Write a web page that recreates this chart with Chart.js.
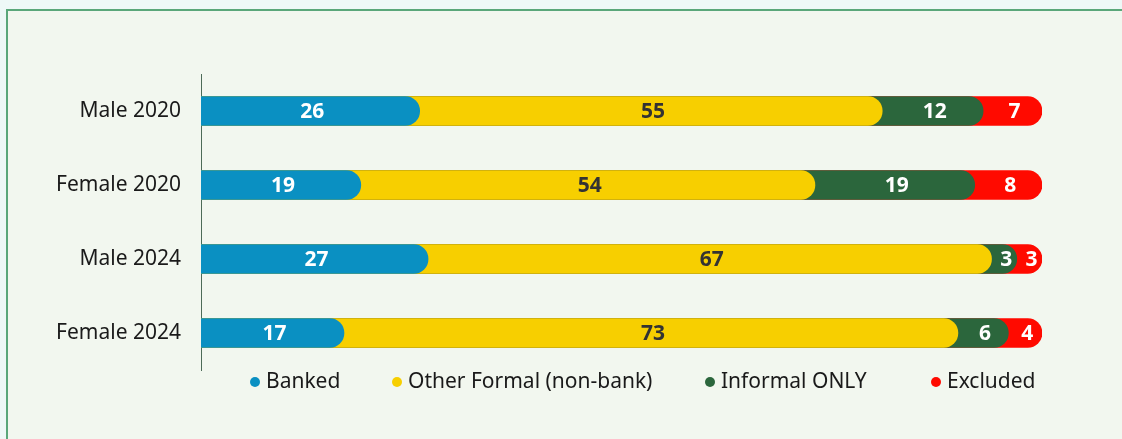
<!DOCTYPE html>
<html>
<head>
<meta charset="utf-8">
<script src="https://cdn.jsdelivr.net/npm/chart.js@4"></script>
<style>
  html, body { margin: 0; padding: 0; background: #eef8f7; }
  #frame {
    position: absolute; left: 6px; top: 9px; width: 1116px; height: 430px;
    background: #f2f7ef; border-left: 2px solid #5aa77a; border-top: 2px solid #5aa77a;
  }
  #wrap { position: absolute; left: 0; top: 0; width: 1122px; height: 439px; }
</style>
</head>
<body>
<div id="frame"></div>
<div id="wrap"><canvas id="chart" width="1122" height="439"></canvas></div>
<script>
const categories = ['Male 2020', 'Female 2020', 'Male 2024', 'Female 2024'];
const seriesNames = ['Banked', 'Other Formal (non-bank)', 'Informal ONLY', 'Excluded'];
const banked = [26, 19, 27, 17];
const otherFormal = [55, 54, 67, 73];
const informalOnly = [12, 19, 3, 6];
const excluded = [7, 8, 3, 4];

const seriesValues = [banked, otherFormal, informalOnly, excluded];
const colors = ['#0a90c2', '#f7cf00', '#2b663c', '#ff0a00'];
const labelColors = ['#ffffff', '#333333', '#ffffff', '#ffffff'];
const legendDotX = [255, 397, 710, 936];
const fontFamily = '"Noto Sans", sans-serif';

// each segment is drawn as a bar from 0 to its running total, earlier series on top
const cumulative = seriesValues.map((vals, s) =>
  vals.map((v, i) => seriesValues.slice(0, s + 1).reduce((a, arr) => a + arr[i], 0))
);

const segmentLabels = {
  id: 'segmentLabels',
  afterDatasetsDraw(chart) {
    const { ctx } = chart;
    const x = chart.scales.x;
    ctx.save();
    ctx.font = 'bold 21px ' + fontFamily;
    ctx.textAlign = 'center';
    ctx.textBaseline = 'middle';
    seriesValues.forEach((vals, s) => {
      const meta = chart.getDatasetMeta(s);
      vals.forEach((v, i) => {
        const start = cumulative[s][i] - v;
        const px = x.getPixelForValue(start + v / 2);
        ctx.fillStyle = labelColors[s];
        ctx.fillText(String(v), px + 2, meta.data[i].y + 1);
      });
    });
    ctx.restore();
  },
};

const dotLegend = {
  id: 'dotLegend',
  afterDraw(chart) {
    const { ctx } = chart;
    ctx.save();
    ctx.font = '21px ' + fontFamily;
    ctx.textBaseline = 'middle';
    ctx.textAlign = 'left';
    seriesNames.forEach((name, s) => {
      const cx = legendDotX[s];
      ctx.fillStyle = colors[s];
      ctx.beginPath();
      ctx.arc(cx, 382, 5, 0, Math.PI * 2);
      ctx.fill();
      ctx.fillStyle = '#1a1a1a';
      ctx.fillText(name, cx + 11, 382);
    });
    ctx.restore();
  },
};

new Chart(document.getElementById('chart'), {
  type: 'bar',
  data: {
    labels: categories,
    datasets: seriesNames.map((name, s) => ({
      label: name,
      data: cumulative[s],
      backgroundColor: colors[s],
      borderRadius: 15,
      borderSkipped: 'start',
      barThickness: 29,
      grouped: false,
    })),
  },
  options: {
    indexAxis: 'y',
    responsive: false,
    animation: false,
    layout: { padding: { top: 74, right: 80, bottom: 69, left: 0 } },
    plugins: { legend: { display: false }, tooltip: { enabled: false } },
    scales: {
      x: { display: false, min: 0, max: 100 },
      y: {
        afterFit(scale) { scale.width = 201; },
        grid: { display: false, drawTicks: false },
        border: { display: true, color: '#4d6b58', width: 1 },
        ticks: { color: '#1a1a1a', font: { family: fontFamily, size: 21 }, padding: 20 },
      },
    },
  },
  plugins: [segmentLabels, dotLegend],
});
</script>
</body>
</html>
